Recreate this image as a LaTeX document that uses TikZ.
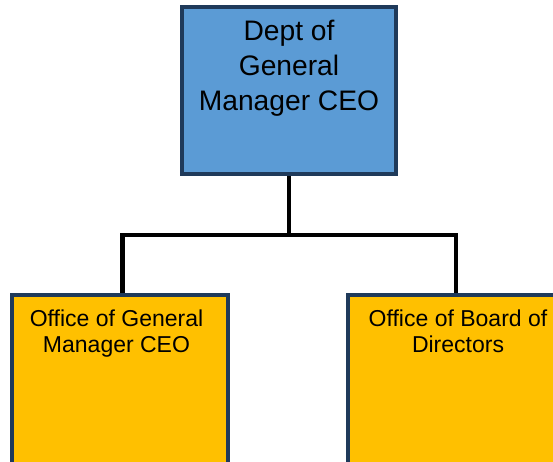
\documentclass[tikz,border=0pt]{standalone}
\usepackage{fontspec}
\setmainfont{Liberation Sans}
\usetikzlibrary{backgrounds}
\definecolor{navy}{HTML}{1F3A5A}
\definecolor{boxblue}{HTML}{5B9BD5}
\definecolor{boxgold}{HTML}{FFC000}
\begin{document}
\begin{tikzpicture}[x=1pt,y=1pt,
  orgbox/.style={draw=navy,line width=4pt,rectangle,inner sep=0pt,outer sep=0pt},
  topbox/.style={orgbox,fill=boxblue,minimum width=214.5pt,minimum height=167.3pt},
  lowbox/.style={orgbox,fill=boxgold,minimum width=216pt,minimum height=180pt},
  toptext/.style={align=center,inner sep=0pt,anchor=base,font=\fontsize{28.2}{35}\selectfont},
  lowtext/.style={align=center,inner sep=0pt,anchor=base,font=\fontsize{23}{26}\selectfont},
  conn/.style={line width=4.5pt,black}]
\useasboundingbox (0,0) rectangle (553,-461);
\node[topbox] (top) at (288.75,-90.35) {};
\node[lowbox] (lb) at (120,-385) {};
\node[lowbox] (rb) at (456,-385) {};
\node[toptext] (toplabel) at (289,-110.7) {Dept of\\General\\Manager CEO};
\node[lowtext] (lblabel) at (116.5,-352.7) {Office of General\\Manager CEO};
\node[lowtext] (rblabel) at (458,-352.2) {Office of Board of\\Directors};
\coordinate (j) at (288.75,-235);
\begin{scope}[on background layer]
\draw[conn] (top.south) -- (j);
\draw[conn] (j) -| ([xshift=2.5pt]lb.north);
\draw[conn] (j) -| (rb.north);
\end{scope}
\end{tikzpicture}
\end{document}
